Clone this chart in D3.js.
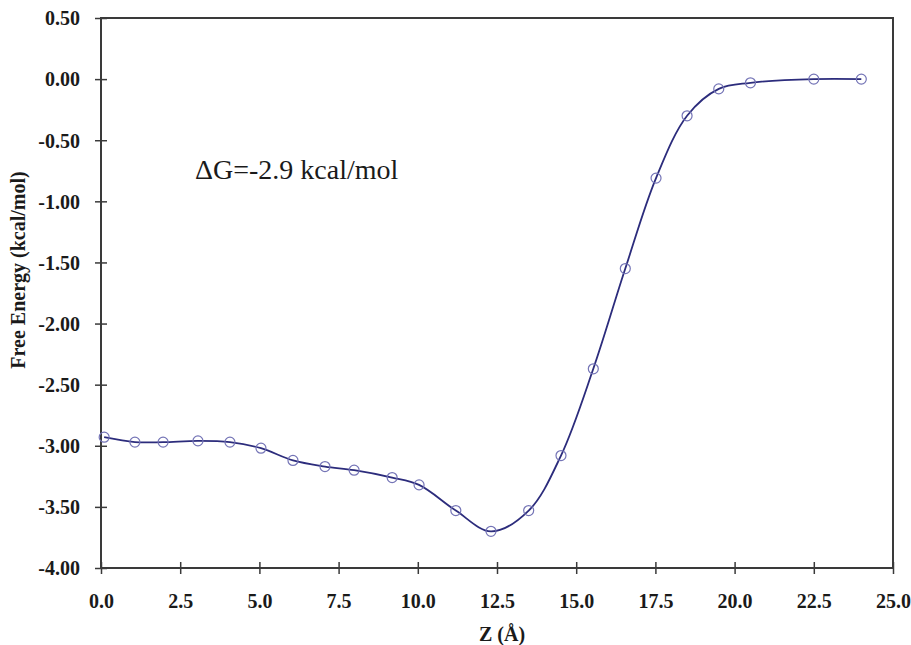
<html>
<head>
<meta http-equiv="content-type" content="text/html; charset=UTF8">
	<title>Free Energy Profile</title>
</head>
<style type="text/css">

body { font-family: "Liberation Serif", "Times New Roman", serif; padding: 0; margin: 0; overflow: hidden; background: #fff; }

.axis text { font-family: "Liberation Serif", "Times New Roman", serif; font-weight: bold; font-size: 20px; fill: #1a1a1a; }
.axis line { stroke: #3a3a3a; stroke-width: 1.5; }

</style>
<body>

    <div id="chart"></div>

    <script type="text/javascript" src="https://cdnjs.cloudflare.com/ajax/libs/d3/7.8.5/d3.min.js"></script>
    <script type="text/javascript">

    // reaction coordinate (Å) and free energy (kcal/mol)
    var zValues = [0.1, 1.07, 1.96, 3.06, 4.07, 5.05, 6.06, 7.07, 7.99, 9.19, 10.04,
                   11.2, 12.31, 13.5, 14.52, 15.54, 16.55, 17.52, 18.5, 19.5, 20.5, 22.5, 24.0];
    var energy = [-2.93, -2.97, -2.97, -2.96, -2.97, -3.02, -3.12, -3.17, -3.20, -3.26, -3.32,
                  -3.53, -3.70, -3.53, -3.08, -2.37, -1.55, -0.81, -0.30, -0.08, -0.03, 0.00, 0.00];

    var xTicks = [0, 2.5, 5, 7.5, 10, 12.5, 15, 17.5, 20, 22.5, 25];
    var yTicks = [0.5, 0, -0.5, -1, -1.5, -2, -2.5, -3, -3.5, -4];

    var annotation = "\u0394G=-2.9 kcal/mol";

    (function(){
        var width = 911, height = 645;
        var left = 101, right = 893, top = 18, bottom = 568;

        var svg = d3.select("#chart").append("svg")
            .attr("width", width)
            .attr("height", height);

        var x = d3.scaleLinear().domain([0, 25]).range([left, right]);
        var y = d3.scaleLinear().domain([-4, 0.5]).range([bottom, top]);

        var points = zValues.map(function(z, i){ return {z: z, e: energy[i]}; });

        /*
        * axes, ticks cross the axis line
        */
        var gx = svg.append("g")
            .attr("class", "axis")
            .attr("transform", "translate(0," + bottom + ")")
            .call(d3.axisBottom(x).tickValues(xTicks).tickSizeInner(6).tickSizeOuter(0).tickPadding(20)
                .tickFormat(function(d){ return d.toFixed(1); }));
        gx.select(".domain").remove();
        gx.selectAll(".tick line").attr("y1", -6);

        var gy = svg.append("g")
            .attr("class", "axis")
            .attr("transform", "translate(" + left + ",0)")
            .call(d3.axisLeft(y).tickValues(yTicks).tickSizeInner(6).tickSizeOuter(0).tickPadding(15)
                .tickFormat(function(d){ return d.toFixed(2); }));
        gy.select(".domain").remove();
        gy.selectAll(".tick line").attr("x1", 6);
        gy.selectAll(".tick text").attr("dy", "0.34em");

        // frame
        svg.append("rect")
            .attr("x", left)
            .attr("y", top)
            .attr("width", right - left)
            .attr("height", bottom - top)
            .attr("fill", "none")
            .attr("stroke", "#3a3a3a")
            .attr("stroke-width", 2);

        /*
        * smoothed curve + open markers
        */
        var line = d3.line()
            .x(function(d){ return x(d.z); })
            .y(function(d){ return y(d.e); })
            .curve(d3.curveCatmullRom.alpha(0.5));

        svg.append("path")
            .datum(points)
            .attr("d", line)
            .attr("fill", "none")
            .attr("stroke", "#2c2c7c")
            .attr("stroke-width", 1.8);

        svg.selectAll(".pt")
            .data(points)
            .enter().append("circle")
            .attr("class", "pt")
            .attr("cx", function(d){ return x(d.z); })
            .attr("cy", function(d){ return y(d.e); })
            .attr("r", 5)
            .attr("fill", "none")
            .attr("stroke", "#7474b6")
            .attr("stroke-width", 1.2);

        /*
        * labels
        */
        svg.append("text")
            .attr("x", 195)
            .attr("y", 179)
            .style("font", "28px 'Liberation Serif', 'Times New Roman', serif")
            .attr("fill", "#1a1a1a")
            .text(annotation);

        svg.append("text")
            .attr("transform", "translate(25,270) rotate(-90)")
            .attr("text-anchor", "middle")
            .style("font", "bold 20px 'Liberation Serif', 'Times New Roman', serif")
            .attr("fill", "#1a1a1a")
            .text("Free Energy (kcal/mol)");

        svg.append("text")
            .attr("x", 502)
            .attr("y", 641)
            .attr("text-anchor", "middle")
            .style("font", "bold 20px 'Liberation Serif', 'Times New Roman', serif")
            .attr("fill", "#1a1a1a")
            .text("Z (\u00c5)");
    })();

    </script>
</body>
</html>
